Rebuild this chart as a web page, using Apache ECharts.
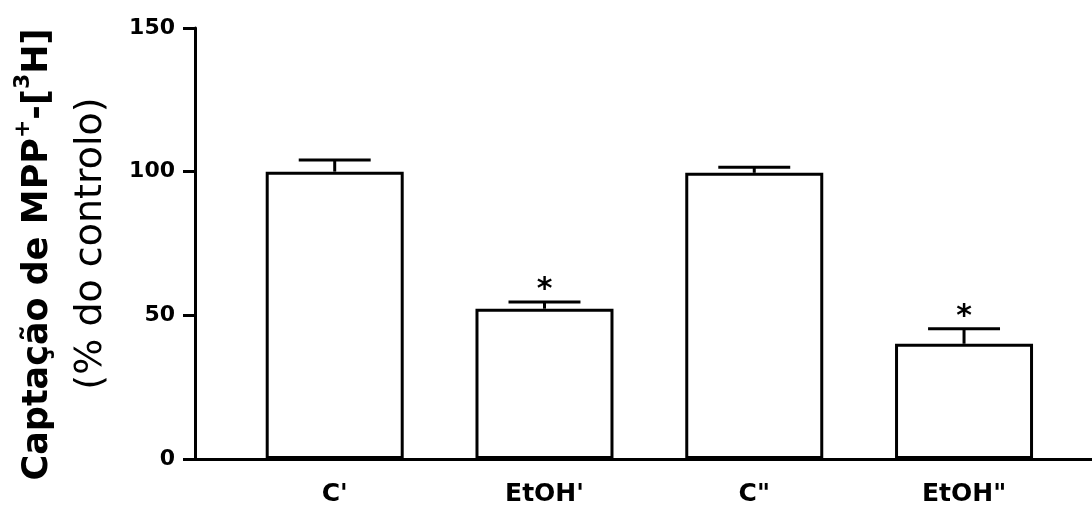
<!DOCTYPE html>
<html>
<head>
<meta charset="utf-8">
<title>Captação de MPP+-[3H]</title>
<script src="https://cdn.jsdelivr.net/npm/echarts@6/dist/echarts.min.js"></script>
<style>
  html, body { margin: 0; padding: 0; background: #fff; }
  #chart { width: 1092px; height: 507px; }
</style>
</head>
<body>
<div id="chart"></div>
<script>
// Uptake of [3H]-MPP+ (% of control), mean with SEM
const categories = ["C'", "EtOH'", 'C"', 'EtOH"'];
const means = [100, 52.3, 99.6, 40.1];
const sems = [4.1, 2.3, 1.9, 5.2];
const significant = [false, true, false, true];
const yTicks = { min: 0, max: 150, interval: 50 };

const FONT = 'DejaVu Sans';
const positions = categories.map((c, i) => i + 1);

const chart = echarts.init(document.getElementById('chart'));

chart.setOption({
  backgroundColor: '#fff',
  animation: false,
  grid: { left: 195, right: 0, top: 28, bottom: 47.5 },
  xAxis: {
    type: 'value',
    min: 0.334,
    max: 4.61,
    splitLine: { show: false },
    axisLine: { show: true, onZero: false, lineStyle: { color: '#000', width: 3 } },
    axisTick: { show: false },
    axisLabel: {
      customValues: positions,
      formatter: v => categories[Math.round(v) - 1] || '',
      color: '#000',
      fontFamily: FONT,
      fontWeight: 'bold',
      fontSize: 25,
      margin: 23
    }
  },
  yAxis: {
    type: 'value',
    min: yTicks.min,
    max: yTicks.max,
    interval: yTicks.interval,
    splitLine: { show: false },
    axisLine: { show: true, lineStyle: { color: '#000', width: 3 } },
    axisTick: { show: true, length: 12, lineStyle: { color: '#000', width: 3 } },
    axisLabel: {
      color: '#000',
      fontFamily: FONT,
      fontWeight: 'bold',
      fontSize: 22,
      margin: 20
    },
    name: '{t|Captação de MPP}{s|+}{t|-[}{s|3}{te|H]}\n{u|(% do controlo)}',
    nameLocation: 'middle',
    nameRotate: 90,
    nameGap: 77,
    nameTextStyle: {
      color: '#000',
      align: 'center',
      rich: {
        t: { fontFamily: FONT, fontWeight: 'bold', fontSize: 35, lineHeight: 52, color: '#000' },
        te: { fontFamily: FONT, fontWeight: 'bold', fontSize: 35, lineHeight: 52, color: '#000', padding: [0, 22, 0, 0] },
        s: { fontFamily: FONT, fontWeight: 'bold', fontSize: 22, lineHeight: 19, verticalAlign: 'top', color: '#000' },
        u: { fontFamily: FONT, fontWeight: 'normal', fontSize: 38, lineHeight: 54, color: '#000' }
      }
    }
  },
  series: [
    {
      type: 'bar',
      data: means.map((m, i) => [positions[i], m]),
      barWidth: 138,
      itemStyle: { color: '#fff', borderColor: '#000', borderWidth: 3 },
      z: 2
    },
    {
      // SEM whiskers, with an asterisk over significant groups
      type: 'custom',
      data: means.map((m, i) => [positions[i], m, sems[i], significant[i] ? 1 : 0]),
      encode: { x: 0, y: 1 },
      clip: false,
      z: 3,
      renderItem: (params, api) => {
        const x = api.value(0), m = api.value(1), e = api.value(2), sig = api.value(3);
        const base = api.coord([x, m]);
        const top = api.coord([x, m + e]);
        const half = api.size([0.343, 0])[0] / 2;
        const stroke = { stroke: '#000', lineWidth: 3 };
        const children = [
          { type: 'line', shape: { x1: base[0], y1: base[1], x2: top[0], y2: top[1] }, style: stroke },
          { type: 'line', shape: { x1: top[0] - half, y1: top[1], x2: top[0] + half, y2: top[1] }, style: stroke }
        ];
        if (sig) {
          children.push({
            type: 'text',
            style: {
              text: '*',
              x: top[0],
              y: top[1] - 12,
              align: 'center',
              verticalAlign: 'middle',
              fontFamily: FONT,
              fontWeight: 'bold',
              fontSize: 30,
              fill: '#000'
            }
          });
        }
        return { type: 'group', children };
      }
    }
  ]
});
</script>
</body>
</html>
